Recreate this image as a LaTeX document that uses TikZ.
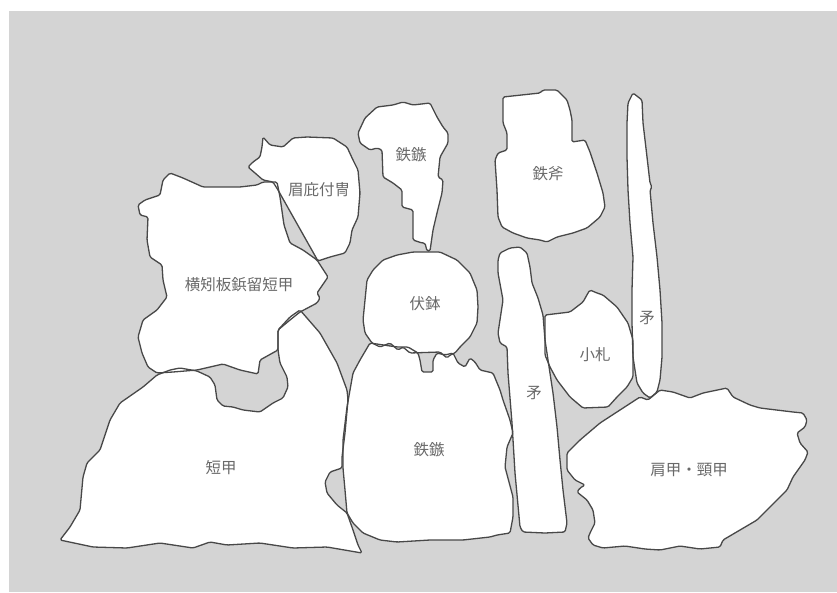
\documentclass[tikz,border=0pt]{standalone}
\usepackage{fontspec}
\usepackage{tikz}
\newfontfamily\jpfont{Noto Sans CJK JP}

% outlines of the finds, in picture pixels (y runs down)
\newcommand{\pieceYokohagi}{(170,173) -- (183,178) -- (203,187) -- (240,187) -- (257,185) -- (263,182) -- (277,182) -- (280,197) -- (284,225) -- (290,243) -- (303,250) -- (317,260) -- (328,277) -- (317,293) -- (320,298) -- (317,303) -- (300,312) -- (290,320) -- (278,330) -- (278,350) -- (260,360) -- (258,374) -- (240,370) -- (223,364) -- (197,370) -- (173,372) -- (157,373) -- (148,367) -- (142,353) -- (138,337) -- (143,320) -- (157,310) -- (167,297) -- (163,280) -- (162,265) -- (150,257) -- (147,240) -- (148,217) -- (140,215) -- (138,205) -- (145,200) -- (160,195) -- (163,180) -- cycle}
\newcommand{\pieceMabisashi}{(263,137) -- (270,145) -- (283,147) -- (293,138) -- (307,137) -- (333,138) -- (347,147) -- (353,160) -- (358,170) -- (360,193) -- (358,217) -- (352,230) -- (350,243) -- (345,253) -- (330,257) -- (318,261) -- (278,190) -- (273,182) -- (263,180) -- (255,173) -- (248,167) -- (253,162) -- (260,157) -- (262,147) -- cycle}
\newcommand{\pieceZokuTop}{(360,143) -- (358,133) -- (365,118) -- (377,107) -- (393,105) -- (403,102) -- (413,105) -- (430,103) -- (437,117) -- (443,127) -- (448,133) -- (448,143) -- (440,157) -- (438,177) -- (443,180) -- (442,193) -- (437,213) -- (433,230) -- (430,251) -- (427,251) -- (425,243) -- (422,243) -- (413,240) -- (413,210) -- (402,207) -- (402,190) -- (393,183) -- (383,177) -- (382,150) -- (377,148) -- (370,150) -- cycle}
\newcommand{\pieceOno}{(503,97) -- (540,93) -- (543,90) -- (557,90) -- (567,100) -- (570,110) -- (572,120) -- (572,142) -- (585,140) -- (590,152) -- (597,173) -- (603,193) -- (605,207) -- (600,217) -- (593,223) -- (587,228) -- (573,233) -- (557,237) -- (547,242) -- (540,240) -- (527,238) -- (513,233) -- (502,227) -- (498,217) -- (497,190) -- (495,160) -- (498,153) -- (507,150) -- (507,133) -- (503,123) -- cycle}
\newcommand{\pieceHokoRight}{(633,93) -- (642,100) -- (643,123) -- (647,157) -- (650,183) -- (652,187) -- (650,190) -- (653,223) -- (657,257) -- (660,290) -- (662,323) -- (662,357) -- (660,380) -- (657,392) -- (650,398) -- (643,393) -- (637,383) -- (633,357) -- (632,323) -- (632,290) -- (633,257) -- (630,223) -- (628,190) -- (627,157) -- (627,123) -- (628,103) -- cycle}
\newcommand{\pieceHokoMid}{(500,253) -- (510,248) -- (520,247) -- (527,253) -- (530,267) -- (532,283) -- (538,298) -- (543,315) -- (545,340) -- (548,360) -- (553,393) -- (557,427) -- (560,460) -- (563,490) -- (567,523) -- (565,532) -- (545,533) -- (523,532) -- (520,527) -- (515,473) -- (512,423) -- (508,373) -- (507,347) -- (500,343) -- (498,333) -- (503,300) -- (498,273) -- (498,260) -- cycle}
\newcommand{\pieceKozane}{(545,315) -- (570,312) -- (583,302) -- (588,293) -- (590,290) -- (597,293) -- (603,295) -- (617,307) -- (628,323) -- (633,340) -- (633,377) -- (627,387) -- (617,397) -- (608,407) -- (583,408) -- (570,397) -- (557,380) -- (550,367) -- (545,355) -- cycle}
\newcommand{\pieceFukubachi}{(413,252) -- (440,252) -- (457,260) -- (470,273) -- (477,290) -- (478,307) -- (477,323) -- (470,337) -- (460,347) -- (455,353) -- (450,355) -- (447,358) -- (440,352) -- (410,353) -- (403,347) -- (398,350) -- (390,343) -- (380,347) -- (372,343) -- (365,333) -- (363,320) -- (365,300) -- (367,280) -- (373,270) -- (383,260) -- (397,255) -- cycle}
\newcommand{\pieceZokuBottom}{(370,343) -- (397,347) -- (408,347) -- (418,353) -- (420,360) -- (422,372) -- (433,372) -- (433,360) -- (437,353) -- (445,355) -- (453,353) -- (458,363) -- (465,367) -- (470,358) -- (475,362) -- (480,370) -- (493,373) -- (500,390) -- (503,400) -- (510,420) -- (513,433) -- (507,447) -- (505,467) -- (513,497) -- (513,517) -- (510,533) -- (497,535) -- (490,537) -- (463,540) -- (430,540) -- (397,542) -- (380,540) -- (363,533) -- (353,523) -- (347,513) -- (345,490) -- (343,468) -- (343,440) -- (347,407) -- (350,390) -- (353,373) -- (360,360) -- cycle}
\newcommand{\pieceTanko}{(60,540) -- (70,527) -- (80,510) -- (83,477) -- (87,463) -- (100,450) -- (110,420) -- (120,403) -- (143,387) -- (157,375) -- (170,370) -- (180,368) -- (197,371) -- (210,377) -- (215,385) -- (217,400) -- (223,406) -- (233,407) -- (243,410) -- (260,412) -- (273,403) -- (283,398) -- (288,387) -- (287,377) -- (280,363) -- (278,350) -- (278,330) -- (290,317) -- (300,310) -- (320,333) -- (337,363) -- (347,390) -- (348,400) -- (345,433) -- (342,457) -- (342,468) -- (330,472) -- (325,482) -- (327,493) -- (337,505) -- (347,513) -- (353,530) -- (358,545) -- (362,553) -- (327,547) -- (293,548) -- (260,543) -- (227,545) -- (210,542) -- (193,548) -- (160,543) -- (127,548) -- (93,547) -- cycle}
\newcommand{\pieceKata}{(567,453) -- (580,440) -- (600,423) -- (620,410) -- (640,397) -- (648,400) -- (660,390) -- (673,392) -- (690,398) -- (703,393) -- (727,388) -- (733,397) -- (750,405) -- (760,408) -- (793,412) -- (803,413) -- (807,420) -- (805,427) -- (797,433) -- (800,443) -- (808,452) -- (805,460) -- (793,477) -- (787,490) -- (777,500) -- (767,510) -- (757,520) -- (740,530) -- (723,540) -- (720,547) -- (700,549) -- (680,546) -- (660,550) -- (645,549) -- (625,546) -- (603,548) -- (593,545) -- (588,538) -- (590,533) -- (595,523) -- (593,510) -- (587,500) -- (577,492) -- (580,488) -- (585,485) -- (575,480) -- (567,470) -- cycle}

\begin{document}
\begin{tikzpicture}[x=1pt, y=-1pt,
    piece/.style={fill=white, rounded corners=1.5pt},
    rim/.style={draw=rimgray, line width=1.3pt, line join=round, rounded corners=1.5pt},
    tag/.style={text=taggray, font=\jpfont\fontsize{15.5}{16}\selectfont, inner sep=0pt}]
    % colours
    \definecolor{bggray}{RGB}{212,212,212}
    \definecolor{rimgray}{RGB}{72,72,72}
    \definecolor{taggray}{RGB}{105,105,105}

    % 1. page and grey ground
    \useasboundingbox (0,0) rectangle (837,592);
    \fill[bggray] (9,11) rectangle (837,592);

    % 2. white pieces first, so that every outline stays on top
    \foreach \p in {\pieceYokohagi, \pieceMabisashi, \pieceZokuTop, \pieceOno,
                    \pieceHokoRight, \pieceHokoMid, \pieceKozane, \pieceFukubachi,
                    \pieceZokuBottom, \pieceTanko, \pieceKata} {
        \fill[piece] \p;
    }

    % 3. outlines
    \foreach \p in {\pieceYokohagi, \pieceMabisashi, \pieceZokuTop, \pieceOno,
                    \pieceHokoRight, \pieceHokoMid, \pieceKozane, \pieceFukubachi,
                    \pieceZokuBottom, \pieceTanko, \pieceKata} {
        \draw[rim] \p;
    }

    % 4. names of the finds
    \node[tag] (yokohagi) at (239,285) {横矧板鋲留短甲};
    \node[tag] (mabisashi) at (319,190) {眉庇付冑};
    \node[tag] (zokuTop) at (411,155) {鉄鏃};
    \node[tag] (ono) at (548,174) {鉄斧};
    \node[tag] (fukubachi) at (425,304) {伏鉢};
    \node[tag] (hokoRight) at (647,318) {矛};
    \node[tag] (kozane) at (595,355) {小札};
    \node[tag] (hokoMid) at (534,393) {矛};
    \node[tag] (tanko) at (221,468) {短甲};
    \node[tag] (zokuBottom) at (429,450) {鉄鏃};
    \node[tag] (kata) at (689,470) {肩甲・頸甲};
\end{tikzpicture}
\end{document}
